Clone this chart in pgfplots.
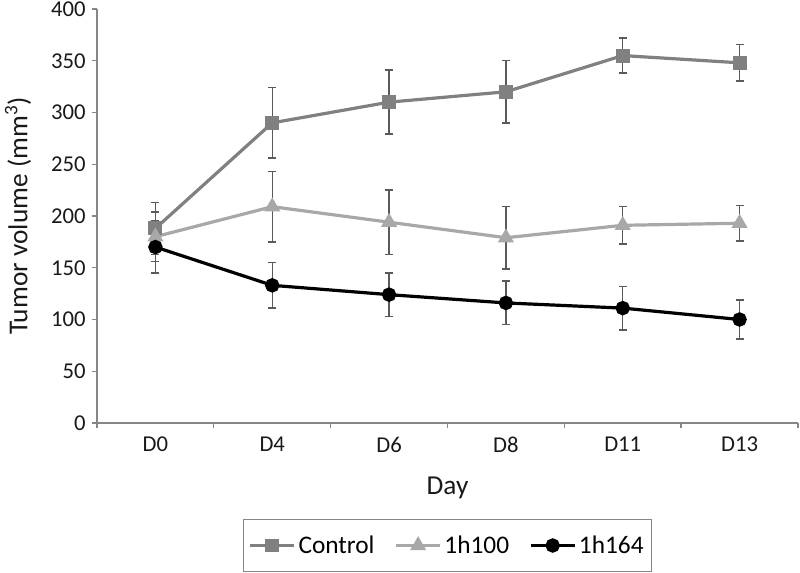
\documentclass[border=0pt]{standalone}
\usepackage{pgfplots}
\pgfplotsset{compat=1.18}
\usepackage{fontspec}
\setmainfont{Carlito}
\definecolor{ctrl}{RGB}{128,128,128}
\definecolor{lgray}{RGB}{168,168,168}
\definecolor{errc}{RGB}{90,90,90}
\definecolor{axc}{RGB}{134,134,134}
\begin{document}
\begin{tikzpicture}
\useasboundingbox (-72.75pt,-112.5pt) rectangle (527.25pt,317.25pt);
\begin{axis}[
  name=ax,
  at={(0,0)}, anchor=south west,
  scale only axis,
  width=525.75pt, height=310.5pt,
  xmin=-0.5, xmax=5.5, ymin=0, ymax=400,
  axis x line=bottom, axis y line=left,
  axis line style={-, color=axc, line width=1.2pt},
  xtick={0,1,2,3,4,5},
  xticklabels={D0,D4,D6,D8,D11,D13},
  major x tick style={draw=none},
  minor xtick={-0.5,0.5,1.5,2.5,3.5,4.5,5.5},
  minor tick length=4pt,
  minor x tick style={color=axc, line width=1pt},
  ytick={0,50,...,400},
  major tick length=4pt,
  major y tick style={color=axc, line width=1pt},
  tick align=outside,
  /pgf/number format/assume math mode=true,
  ticklabel style={font=\fontsize{17pt}{20pt}\selectfont, color=black!90},
  yticklabel style={xshift=-1pt},
  xticklabel style={yshift=-3pt},
  xlabel={Day},
  ylabel={Tumor volume (mm\textsuperscript{3})},
  label style={font=\fontsize{20.5pt}{24pt}\selectfont, color=black!90},
  xlabel style={at={(axis description cs:0.5,-0.157)}, anchor=center},
  ylabel style={at={(axis description cs:-0.1127,0.5)}, anchor=center},
  legend columns=3,
  legend style={at={(axis description cs:0.5,-0.232)}, anchor=north,
    draw=axc, line width=1pt, font=\fontsize{19pt}{22pt}\selectfont,
    inner xsep=4pt, inner ysep=10pt,
    /tikz/every even column/.append style={column sep=13pt}},
  legend cell align=left,
  legend image code/.code={\draw[mark repeat=2,mark phase=2,#1] plot coordinates {(0pt,0pt)(16.5pt,0pt)(33pt,0pt)};},
  error bars/y dir=both, error bars/y explicit,
  error bars/error bar style={color=errc, line width=1.1pt},
  error bars/error mark options={rotate=90, mark size=3pt, color=errc, line width=1.1pt},
  clip=false,
]
\addplot[color=ctrl, line width=2.4pt, mark=square*, mark size=4pt, mark options={solid}]
  coordinates {(0,188) +- (0,25) (1,290) +- (0,34) (2,310) +- (0,31) (3,320) +- (0,30) (4,355) +- (0,17) (5,348) +- (0,17.5)};
\addlegendentry{Control}
\addplot[color=lgray, line width=2.4pt, mark=triangle*, mark size=4.6pt, mark options={solid}]
  coordinates {(0,180) +- (0,24) (1,209) +- (0,34) (2,194) +- (0,31) (3,179) +- (0,30) (4,191) +- (0,18) (5,193) +- (0,17)};
\addlegendentry{1h100}
\addplot[color=black, line width=2.4pt, mark=*, mark size=4.2pt, mark options={solid}]
  coordinates {(0,170) +- (0,25) (1,133) +- (0,22) (2,124) +- (0,21) (3,116) +- (0,21) (4,111) +- (0,21) (5,100) +- (0,19)};
\addlegendentry{1h164}
\end{axis}
\end{tikzpicture}
\end{document}
